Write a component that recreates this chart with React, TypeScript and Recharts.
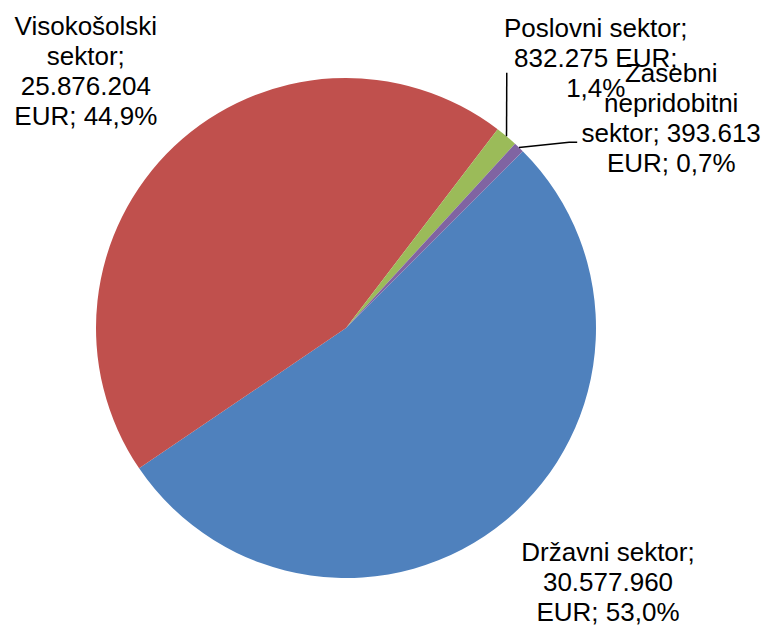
import { Cell, Pie, PieChart } from 'recharts'

const names = ['Državni sektor', 'Visokošolski sektor', 'Poslovni sektor', 'Zasebni nepridobitni sektor']
const values = [30577960, 25876204, 832275, 393613]
const colors = ['#4F81BD', '#C0504D', '#9BBB59', '#8064A2']

const data = names.map((name, i) => ({ name, value: values[i] }))

// where each label sits: distance past the rim, angle nudge, words per line, leader line points (relative to label)
const labelLayout = [
  { extra: 115, dAngle: 6.3, wrap: [2, 1, 2], leader: null },
  { extra: 116, dAngle: 1.9, wrap: [1, 1, 1, 2], leader: null },
  { extra: 118, dAngle: -2.8, wrap: [2, 2, 1], leader: [[-89, 15]] },
  { extra: 137, dAngle: -13.4, wrap: [1, 1, 2, 2], leader: [[-102, 24], [-94, 24]] },
]

const FONT = '"Liberation Sans", Arial, sans-serif'
const LINE_H = 30
const RAD = Math.PI / 180

const fmtValue = (v: number) => String(v).replace(/\B(?=(\d{3})+(?!\d))/g, '.')
const fmtPct = (p: number) => (p * 100).toFixed(1).replace('.', ',') + '%'

function PieLabel(props: any) {
  const { cx, cy, midAngle, outerRadius, index, percent, name, value } = props
  const cfg = labelLayout[index]
  const a = (midAngle + cfg.dAngle) * RAD
  const r = outerRadius + cfg.extra
  const ax = cx + r * Math.cos(a)
  const ay = cy - r * Math.sin(a)

  const words = `${name}; ${fmtValue(value)} EUR; ${fmtPct(percent)}`.split(' ')
  const lines: string[] = []
  let k = 0
  cfg.wrap.forEach((n) => {
    lines.push(words.slice(k, k + n).join(' '))
    k += n
  })

  const first = ay - ((lines.length - 1) / 2) * LINE_H + 9

  let leader = null
  if (cfg.leader) {
    const ex = cx + outerRadius * Math.cos(midAngle * RAD)
    const ey = cy - outerRadius * Math.sin(midAngle * RAD)
    const pts = [[ex, ey], ...cfg.leader.map(([dx, dy]) => [ax + dx, ay + dy])]
    leader = (
      <polyline
        points={pts.map((p) => p.join(',')).join(' ')}
        fill="none"
        stroke="#000"
        strokeWidth={1.5}
      />
    )
  }

  return (
    <g>
      {leader}
      {lines.map((t, i) => (
        <text
          key={i}
          x={ax}
          y={first + i * LINE_H}
          textAnchor="middle"
          fontFamily={FONT}
          fontSize={26}
          fill="#000"
        >
          {t}
        </text>
      ))}
    </g>
  )
}

export default function App() {
  return (
    <div style={{ position: 'absolute', left: 0, top: 0, width: 769, height: 627, background: '#fff' }}>
      <PieChart width={769} height={627} margin={{ top: 0, right: 0, bottom: 0, left: 0 }}>
        <Pie
          data={data}
          dataKey="value"
          nameKey="name"
          cx={346}
          cy={328}
          outerRadius={250}
          startAngle={45}
          endAngle={-315}
          stroke="none"
          label={PieLabel}
          labelLine={false}
          isAnimationActive={false}
        >
          {data.map((d, i) => (
            <Cell key={d.name} fill={colors[i]} />
          ))}
        </Pie>
      </PieChart>
    </div>
  )
}
